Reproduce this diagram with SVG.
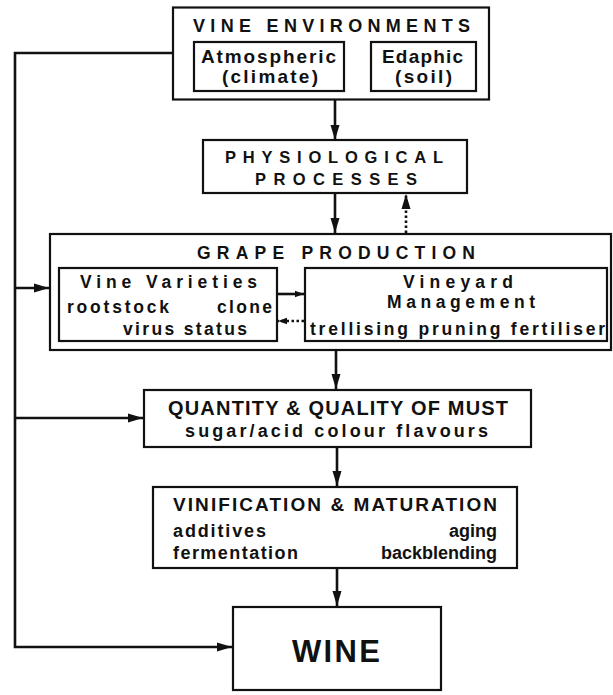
<svg xmlns="http://www.w3.org/2000/svg" width="613" height="695" viewBox="0 0 613 695">
<style>
.box{fill:none;stroke:#111;stroke-width:2.2}
.t{font-family:"Liberation Sans",Arial,sans-serif;font-weight:bold;fill:#111}
.ln{fill:none;stroke:#111;stroke-width:2.6}
.dot{fill:none;stroke:#111;stroke-width:2.6;stroke-dasharray:2.5 2.5}
</style>
<defs>
<marker id="ah" markerWidth="16" markerHeight="10" refX="15" refY="5" orient="auto" markerUnits="userSpaceOnUse">
<path d="M0,0.5 L15,5 L0,9.5 Z" fill="#111"/>
</marker>
<marker id="ahs" markerWidth="10" markerHeight="8" refX="9" refY="4" orient="auto" markerUnits="userSpaceOnUse">
<path d="M0,0.8 L9,4 L0,7.2 Z" fill="#111"/>
</marker>
</defs>
<rect width="613" height="695" fill="#fff"/>
<g id="connectors">
<path class="ln" d="M335,100 V140" marker-end="url(#ah)"/>
<path class="ln" d="M335,193 V233" marker-end="url(#ah)"/>
<path class="dot" d="M406,233 V194" marker-end="url(#ah)"/>
<path class="ln" d="M336,350 V389" marker-end="url(#ah)"/>
<path class="ln" d="M337,447 V486" marker-end="url(#ah)"/>
<path class="ln" d="M337,568 V606" marker-end="url(#ah)"/>
<path class="ln" d="M173,53 H15 V647 H232" marker-end="url(#ah)"/>
<path class="ln" d="M15,288 H49" marker-end="url(#ah)"/>
<path class="ln" d="M15,418 H143" marker-end="url(#ah)"/>
<path class="ln" d="M278,294 H304" marker-end="url(#ahs)"/>
<path class="dot" d="M304,321 H278" marker-end="url(#ahs)"/>
</g>
<g id="env">
<rect class="box" x="173" y="7.5" width="316" height="92"/>
<text class="t" x="193" y="32" font-size="18" textLength="277" lengthAdjust="spacing">VINE ENVIRONMENTS</text>
</g>
<g id="atmospheric">
<rect class="box" x="194" y="42" width="150" height="49"/>
<text class="t" x="201" y="63" font-size="19" textLength="135" lengthAdjust="spacing">Atmospheric</text>
<text class="t" x="222" y="83" font-size="19" textLength="96" lengthAdjust="spacing">(climate)</text>
</g>
<g id="edaphic">
<rect class="box" x="371" y="42" width="105" height="49"/>
<text class="t" x="382" y="63" font-size="19" textLength="81" lengthAdjust="spacing">Edaphic</text>
<text class="t" x="395" y="83" font-size="19" textLength="57" lengthAdjust="spacing">(soil)</text>
</g>
<g id="physio">
<rect class="box" x="203" y="140" width="264" height="53"/>
<text class="t" x="225" y="163" font-size="16.5" textLength="218" lengthAdjust="spacing">PHYSIOLOGICAL</text>
<text class="t" x="255" y="185" font-size="16.5" textLength="162" lengthAdjust="spacing">PROCESSES</text>
</g>
<g id="grape">
<rect class="box" x="50" y="234" width="561" height="116"/>
<text class="t" x="197" y="259" font-size="17.5" textLength="278" lengthAdjust="spacing">GRAPE PRODUCTION</text>
</g>
<g id="varieties">
<rect class="box" x="59" y="268" width="218" height="73"/>
<text class="t" x="80" y="288" font-size="17.5" textLength="177" lengthAdjust="spacing">Vine Varieties</text>
<text class="t" x="67" y="313" font-size="17.5" textLength="102" lengthAdjust="spacing">rootstock</text>
<text class="t" x="217" y="313" font-size="17.5" textLength="55" lengthAdjust="spacing">clone</text>
<text class="t" x="123" y="335" font-size="17.5" textLength="124" lengthAdjust="spacing">virus status</text>
</g>
<g id="vineyard">
<rect class="box" x="305" y="268" width="302" height="73"/>
<text class="t" x="403" y="288" font-size="17.5" textLength="110" lengthAdjust="spacing">Vineyard</text>
<text class="t" x="387" y="308" font-size="17.5" textLength="148" lengthAdjust="spacing">Management</text>
<text class="t" x="310" y="335" font-size="17.5" textLength="295" lengthAdjust="spacing">trellising pruning fertiliser</text>
</g>
<g id="must">
<rect class="box" x="144" y="390" width="387" height="57"/>
<text class="t" x="168" y="415" font-size="20" textLength="340" lengthAdjust="spacing">QUANTITY &amp; QUALITY OF MUST</text>
<text class="t" x="185" y="437" font-size="18" textLength="303" lengthAdjust="spacing">sugar/acid  colour  flavours</text>
</g>
<g id="vinification">
<rect class="box" x="153" y="487" width="364" height="81"/>
<text class="t" x="173" y="511" font-size="19" textLength="324" lengthAdjust="spacing">VINIFICATION &amp; MATURATION</text>
<text class="t" x="173" y="537" font-size="18" textLength="93" lengthAdjust="spacing">additives</text>
<text class="t" x="497" y="537" font-size="18" text-anchor="end">aging</text>
<text class="t" x="173" y="559" font-size="18" textLength="125" lengthAdjust="spacing">fermentation</text>
<text class="t" x="497" y="559" font-size="18" text-anchor="end">backblending</text>
</g>
<g id="wine">
<rect class="box" x="233" y="607" width="208" height="83" stroke-width="3"/>
<text class="t" x="292" y="662" font-size="31" textLength="88" lengthAdjust="spacing">WINE</text>
</g>
</svg>
